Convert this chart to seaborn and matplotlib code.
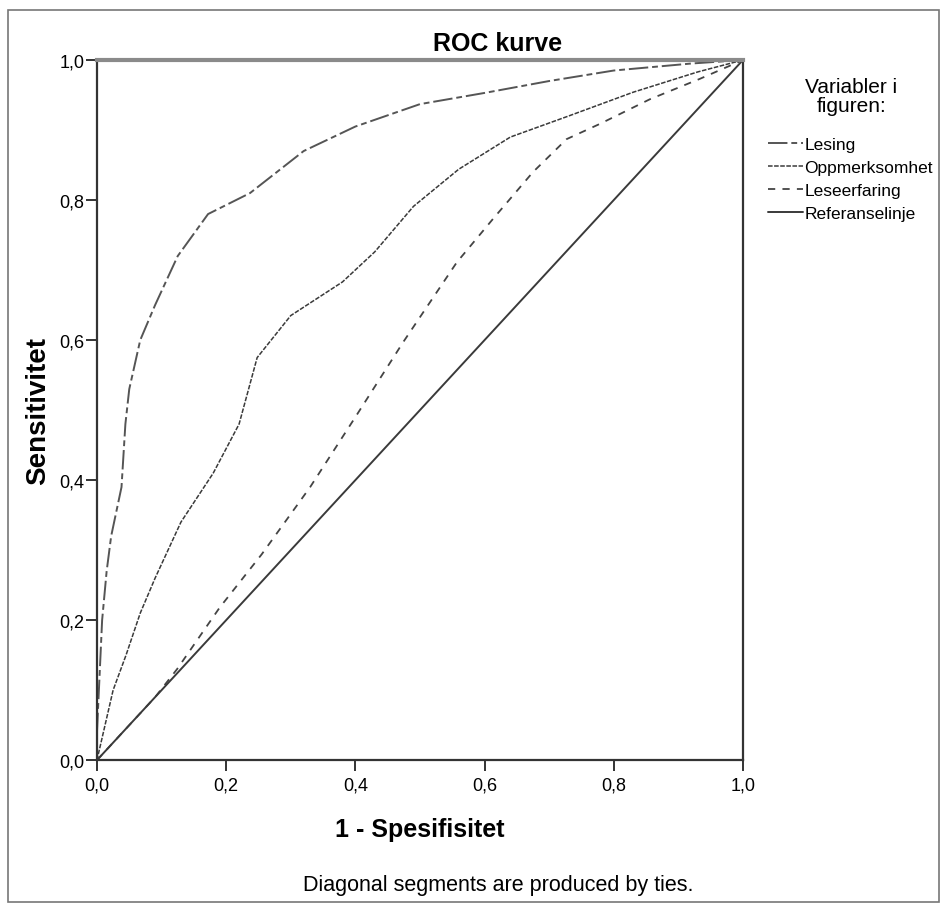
import numpy as np
import pandas as pd
import matplotlib
matplotlib.use("Agg")
import matplotlib.pyplot as plt
import seaborn as sns
from matplotlib.ticker import FuncFormatter
from matplotlib.patches import Rectangle

# ROC data (1 - spesifisitet, sensitivitet)
lesing_x = [0.0, 0.0, 0.008, 0.015, 0.022, 0.038, 0.044, 0.05, 0.067, 0.09, 0.125,
            0.172, 0.237, 0.32, 0.40, 0.50, 0.60, 0.70, 0.80, 0.92, 1.0]
lesing_y = [0.0, 0.08, 0.2, 0.27, 0.32, 0.39, 0.48, 0.53, 0.6, 0.65, 0.72,
            0.78, 0.81, 0.87, 0.905, 0.937, 0.953, 0.97, 0.985, 0.995, 1.0]

oppm_x = [0.0, 0.005, 0.015, 0.025, 0.045, 0.067, 0.09, 0.13, 0.18, 0.22, 0.248,
          0.30, 0.38, 0.43, 0.49, 0.56, 0.64, 0.73, 0.83, 0.93, 1.0]
oppm_y = [0.0, 0.02, 0.06, 0.10, 0.15, 0.21, 0.26, 0.34, 0.41, 0.48, 0.575,
          0.635, 0.683, 0.726, 0.791, 0.844, 0.89, 0.92, 0.954, 0.983, 1.0]

lese_x = [0.0, 0.05, 0.09, 0.124, 0.19, 0.255, 0.33, 0.40, 0.474, 0.557, 0.613,
          0.675, 0.727, 0.779, 0.856, 0.933, 1.0]
lese_y = [0.0, 0.05, 0.09, 0.13, 0.218, 0.294, 0.39, 0.49, 0.597, 0.711, 0.773,
          0.84, 0.887, 0.909, 0.944, 0.973, 1.0]

ref_x = [0.0, 1.0]
ref_y = [0.0, 1.0]

ticks = [0.0, 0.2, 0.4, 0.6, 0.8, 1.0]

sns.set_style("white")
plt.rcParams['font.family'] = ['Liberation Sans', 'DejaVu Sans']
plt.rcParams['text.color'] = "black"
plt.rcParams['axes.labelcolor'] = "black"
plt.rcParams['xtick.color'] = "black"
plt.rcParams['ytick.color'] = "black"

fig = plt.figure(figsize=(9.45, 9.04), dpi=100)
ax = fig.add_axes([0.1026, 0.158, 0.6836, 0.7745])

line_col = "#3a3a3a"
sns.lineplot(x=lesing_x, y=lesing_y, ax=ax, color="#555555", lw=1.4,
             sort=False, label="Lesing", linestyle=(0, (10, 2, 3, 2)))
sns.lineplot(x=oppm_x, y=oppm_y, ax=ax, color=line_col, lw=1.1,
             sort=False, label="Oppmerksomhet", linestyle=(0, (3, 1)))
sns.lineplot(x=lese_x, y=lese_y, ax=ax, color="#444444", lw=1.3,
             sort=False, label="Leseerfaring", linestyle=(0, (4, 4)))
sns.lineplot(x=ref_x, y=ref_y, ax=ax, color=line_col, lw=1.4,
             sort=False, label="Referanselinje")

ax.set_xlim(0, 1)
ax.set_ylim(0, 1)
ax.set_xticks(ticks)
ax.set_yticks(ticks)
fmt = FuncFormatter(lambda v, p: f"{v:.1f}".replace(".", ","))
ax.xaxis.set_major_formatter(fmt)
ax.yaxis.set_major_formatter(fmt)
ax.tick_params(axis="both", direction="out", length=8, width=1.4,
               color="#333333", labelsize=13, bottom=True, left=True)
ax.tick_params(axis="x", pad=4)
ax.tick_params(axis="y", pad=1)

for side in ["left", "bottom", "right"]:
    ax.spines[side].set_color("#333333")
    ax.spines[side].set_linewidth(1.6)
ax.spines["top"].set_color("#8a8a8a")
ax.spines["top"].set_linewidth(3)

# chart title is centred over plot + legend, like the footnote
fig.text(0.527, 0.9436, "ROC kurve", ha="center", va="baseline",
         fontsize=18, fontweight="bold")
ax.set_xlabel("1 - Spesifisitet", fontsize=18, fontweight="bold", labelpad=17)
ax.set_ylabel("Sensitivitet", fontsize=20, fontweight="bold", labelpad=6)

leg = ax.legend(loc="upper left", bbox_to_anchor=(0.8127, 0.847),
                bbox_transform=fig.transFigure, frameon=False, fontsize=12.5,
                handlelength=2.0, handletextpad=0.1, labelspacing=0.45,
                borderaxespad=0, borderpad=0)

fig.text(0.901, 0.8927, "Variabler i\nfiguren:", ha="center", va="center",
         fontsize=15, multialignment="center", linespacing=1.05)

fig.text(0.527, 0.020, "Diagonal segments are produced by ties.",
         ha="center", va="center", fontsize=15.5)

fig.patches.append(Rectangle((0.0085, 0.001), 0.985, 0.987,
                             transform=fig.transFigure, fill=False,
                             edgecolor="#777777", lw=1.2))

plt.savefig("out.png", dpi=100)
